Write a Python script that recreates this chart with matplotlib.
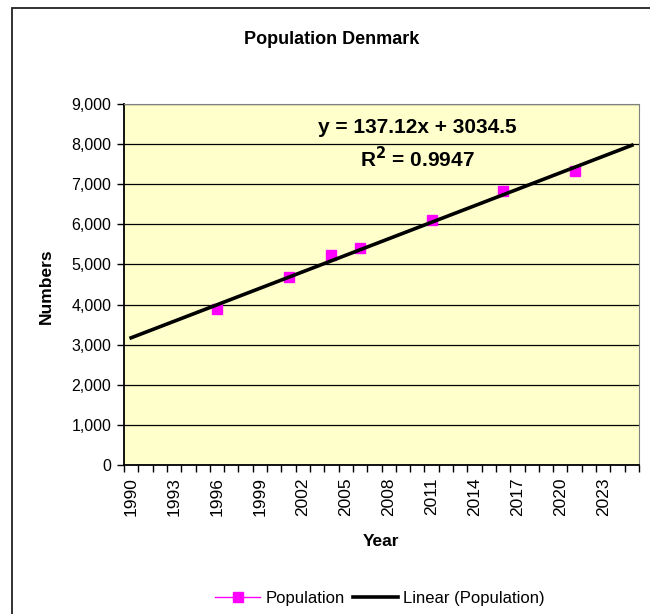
import matplotlib.pyplot as plt
from matplotlib.lines import Line2D
from matplotlib.patches import Rectangle

plt.rcParams['font.family'] = ['Liberation Sans', 'DejaVu Sans']

# Category axis: one slot per year
years = list(range(1990, 2026))
obs_years = [1996, 2001, 2004, 2006, 2011, 2016, 2021]
population = [3880, 4680, 5240, 5420, 6110, 6820, 7330]

# Excel trendline shown on the chart (x = category index starting at 1)
slope = 137.12
intercept = 3034.5
r_squared = 0.9947

fig = plt.figure(figsize=(6.5, 6.14), dpi=100)

# outer chart frame (cut off at right/bottom, like the source)
fig.patches.append(Rectangle((12 / 650, -0.05), 1.0, 1 - 8 / 614 + 0.05,
                             transform=fig.transFigure, fill=False,
                             edgecolor='#222222', linewidth=1.3))

ax = fig.add_axes([124 / 650, 1 - 465 / 614, (639 - 124) / 650, (465 - 104) / 614])
ax.set_facecolor('#FFFFCC')

idx = [years.index(y) + 1 for y in obs_years]
ax.plot(idx, population, linestyle='none', marker='s', markersize=7,
        color='#FF00FF', zorder=3)

x0, x1 = 1, len(years)
ax.plot([x0, x1], [slope * x0 + intercept, slope * x1 + intercept],
        color='black', linewidth=2.6, zorder=4)

ax.set_xlim(0.5, len(years) + 0.5)
ax.set_ylim(0, 9000)

# y axis
yt = list(range(0, 9001, 1000))
ax.set_yticks(yt)
ax.set_yticklabels([f'{v:,}' for v in yt], fontsize=11.5)
ax.yaxis.grid(True, color='black', linewidth=0.9)
ax.set_axisbelow(True)
ax.tick_params(axis='y', direction='out', length=5, width=1, pad=4)

# x axis: tick marks between categories, labels every 3 years
ax.set_xticks([i + 0.5 for i in range(0, len(years) + 1)])
ax.set_xticklabels([])
ax.tick_params(axis='x', which='major', direction='out', length=5, width=1)
ax.set_xticks(list(range(1, len(years) + 1, 3)), minor=True)
ax.set_xticklabels([str(y) for y in years[::3]], minor=True, rotation=90, fontsize=12.5)
ax.tick_params(axis='x', which='minor', length=0, pad=9)

for s in ['top', 'right']:
    ax.spines[s].set_color('#808080')
for s in ['left', 'bottom']:
    ax.spines[s].set_color('black')
    ax.spines[s].set_linewidth(1.3)

fig.text(46 / 650, 1 - 286 / 614, 'Numbers', rotation=90, ha='center', va='center',
         fontsize=12.5, fontweight='bold')
fig.text(381 / 650, 1 - 541 / 614, 'Year', ha='center', va='center',
         fontsize=12.5, fontweight='bold')

fig.text(332 / 650, 1 - 40 / 614, 'Population Denmark', ha='center', va='center',
         fontsize=13, fontweight='bold')

ax.text(0.57, 0.935, f'y = {slope}x + {intercept}', transform=ax.transAxes,
        ha='center', va='center', fontsize=15, fontweight='bold')
ax.text(0.57, 0.85, r'R$^\mathbf{2}$' + f' = {r_squared}', transform=ax.transAxes,
        ha='center', va='center', fontsize=15, fontweight='bold')

handles = [Line2D([], [], color='#FF00FF', marker='s', markersize=7, linewidth=1),
           Line2D([], [], color='black', linewidth=2.6)]
fig.legend(handles, ['Population', 'Linear (Population)'], loc='center',
           bbox_to_anchor=(380 / 650, 1 - 598 / 614), ncol=2, frameon=False,
           fontsize=12, handlelength=2.7, columnspacing=0.5, handletextpad=0.3)

fig.savefig('out.png', dpi=100)
